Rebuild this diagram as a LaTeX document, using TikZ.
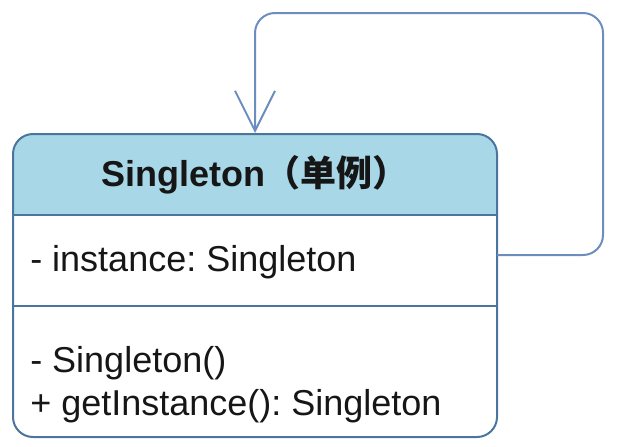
\documentclass[tikz,border=0pt]{standalone}
\usepackage{fontspec}
\setmainfont{Liberation Sans}
\newfontfamily\cjkfont{Noto Sans CJK SC}
\usepackage{xcolor}
\usetikzlibrary{arrows.meta}
\definecolor{umlEdge}{RGB}{74,118,158}
\definecolor{umlHead}{RGB}{168,216,232}
\definecolor{umlLoop}{RGB}{108,142,191}
\definecolor{umlInk}{RGB}{22,22,22}
\frenchspacing
\tikzset{
  classbox/.style={
    draw=umlEdge,
    line width=1.5pt,
    rounded corners=15pt,
    minimum width=363pt,
    minimum height=227.25pt,
    inner sep=0pt,
    path picture={\fill[umlHead,sharp corners] (path picture bounding box.north west) rectangle ([yshift=-61.5pt]path picture bounding box.north east);}
  },
  sepline/.style={draw=umlEdge,line width=1.5pt},
  membertext/.style={anchor=base west,inner sep=0pt,text=umlInk,font=\fontsize{27}{32}\selectfont},
  titletext/.style={anchor=base,inner sep=0pt,text=umlInk,font=\fontsize{27}{32}\selectfont\bfseries},
  selfloop/.style={draw=umlLoop,line width=1.5pt,rounded corners=15pt,-{Straight Barb[length=30pt,width=30pt]}}
}

\begin{document}
\begin{tikzpicture}[x=0.75pt,y=-0.75pt]
  \useasboundingbox (0,0) rectangle (617,446);
  \node[classbox] (cls) at (255,285.5) {};
  \draw[sepline] ([yshift=-61.5pt]cls.north west) -- ([yshift=-61.5pt]cls.north east);
  \draw[sepline] ([yshift=-129.75pt]cls.north west) -- ([yshift=-129.75pt]cls.north east);
  \node[titletext] (title) at (255,186) {Singleton{\cjkfont （单例）}};
  \node[membertext] (attr) at (30,271) {- instance: Singleton};
  \node[membertext] (ctor) at (30,372) {- Singleton()};
  \node[membertext] (getter) at (30,415) {+ getInstance(): Singleton};
  % self association
  \coordinate (loopstart) at (497,255);
  \draw[selfloop] (loopstart) -- ++(106,0) -- ++(0,-242) -| (cls.north);
\end{tikzpicture}
\end{document}
